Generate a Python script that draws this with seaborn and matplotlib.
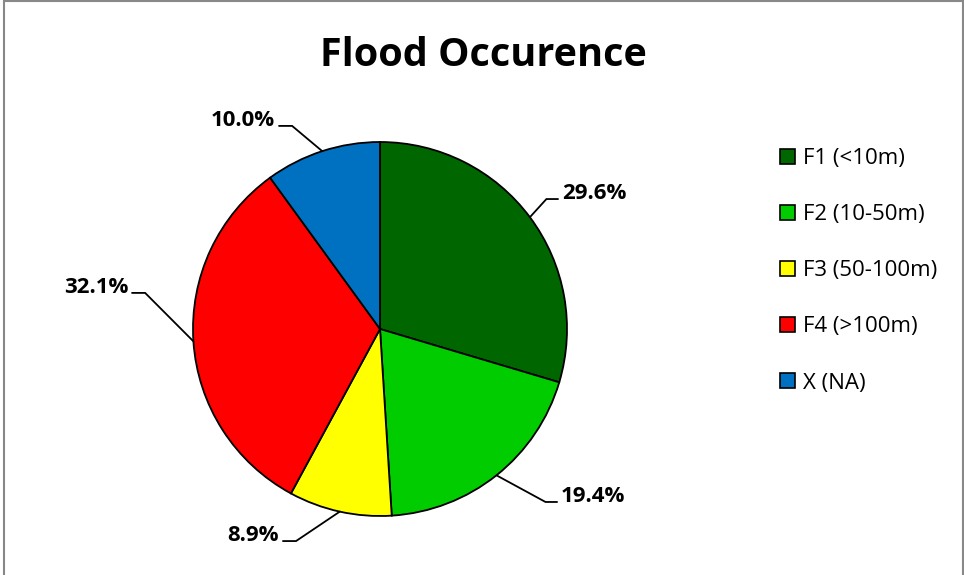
import matplotlib
matplotlib.use("Agg")
import matplotlib.pyplot as plt
import seaborn as sns
import numpy as np
from matplotlib.patches import Patch, Rectangle

categories = ["F1 (<10m)", "F2 (10-50m)", "F3 (50-100m)", "F4 (>100m)", "X (NA)"]
percentages = [29.6, 19.4, 8.9, 32.1, 10.0]
colors = ["#006600", "#00CC00", "#FFFF00", "#FF0000", "#0070C0"]
title = "Flood Occurence"

sns.set_theme(style="white")
plt.rcParams["font.family"] = ["Open Sans", "DejaVu Sans"]

W, H = 964, 575
fig = plt.figure(figsize=(W / 100, H / 100), dpi=100)

cx, cy, R = 380, 329, 187
ax = fig.add_axes([(cx - R) / W, (H - cy - R) / H, 2 * R / W, 2 * R / H])
wedges, _ = ax.pie(percentages, colors=colors, startangle=90, counterclock=False,
                   wedgeprops=dict(edgecolor="black", linewidth=1.3))
ax.set_xlim(-1, 1)
ax.set_ylim(-1, 1)
ax.set_aspect("equal")
ax.axis("off")

# label anchor points (end of leader line), in pie-radius units
label_layout = [(0.952, 0.695), (0.947, -0.925), (-0.519, -1.134),
                (-1.326, 0.193), (-0.540, 1.086)]
for w, p, (ex, ey) in zip(wedges, percentages, label_layout):
    th = np.deg2rad((w.theta1 + w.theta2) / 2)
    sx, sy = np.cos(th), np.sin(th)
    on_right = ex > 0
    hx = ex - 0.062 if on_right else ex + 0.07
    ax.plot([sx, hx, ex], [sy, ey, ey], color="black", lw=1.3, clip_on=False,
            solid_joinstyle="miter")
    tx = ex + 0.02 if on_right else ex - 0.02
    ax.text(tx, ey + 0.03, f"{p:.1f}%", ha="left" if on_right else "right",
            va="center", fontsize=16, fontweight="bold", color="black")

fig.text(483 / W, 1 - 55 / H, title, ha="center", va="center",
         fontsize=28.5, fontweight="bold", color="black")

handles = [Patch(facecolor=c, edgecolor="black", linewidth=1.2) for c in colors]
leg = fig.legend(handles, categories, loc="upper left",
                 bbox_to_anchor=(769 / W, 1 - 137 / H), frameon=False,
                 fontsize=16, handlelength=0.68, handleheight=0.68, handletextpad=0.36,
                 labelspacing=1.58, borderpad=0)
for t in leg.get_texts():
    t.set_color("black")

fig.add_artist(Rectangle((3.5 / W, -0.01), (963 - 3.5) / W, 1.01 - 0.5 / H,
                         transform=fig.transFigure, fill=False,
                         edgecolor="#888888", linewidth=1.5))

fig.savefig("out.png", dpi=100, facecolor="white")
